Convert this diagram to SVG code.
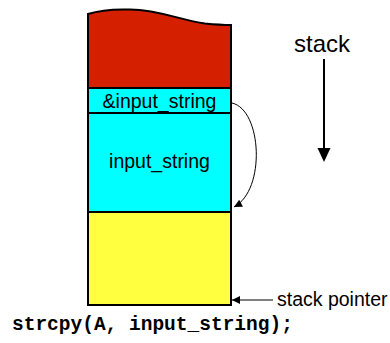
<svg xmlns="http://www.w3.org/2000/svg" width="390" height="343" viewBox="0 0 390 343">
<style>
.box{stroke:#000;stroke-width:2}
.lbl{font-family:"Liberation Sans",Arial,sans-serif;fill:#000}
.conn{fill:none;stroke:#000;stroke-width:1}
</style>
<defs>
<marker id="ah" viewBox="0 0 10 10" refX="10" refY="5" markerWidth="10" markerHeight="8" markerUnits="userSpaceOnUse" orient="auto"><path d="M0,0 L10,5 L0,10 z" fill="#000"/></marker>
</defs>
<rect width="390" height="343" fill="#fff"/>
<g id="heap">
<path class="box" d="M88,88 L88,14 C100,10 115,9 130,9.5 C160,10 180,20 205,23.5 C215,24.5 225,25 231,25 L231,88 Z" fill="#D42000"/>
</g>
<g id="addr">
<rect class="box" x="88" y="88" width="143" height="25" fill="#00FFFF"/>
<text class="lbl" x="159.5" y="108" font-size="19.5" text-anchor="middle">&amp;input_string</text>
</g>
<g id="buf">
<rect class="box" x="88" y="113" width="143" height="99" fill="#00FFFF"/>
<text class="lbl" x="159.5" y="168" font-size="19.5" text-anchor="middle">input_string</text>
</g>
<g id="free">
<rect class="box" x="88" y="212" width="143" height="93" fill="#FFFF40"/>
</g>
<g id="stacklabel">
<text class="lbl" x="322" y="52" font-size="24" text-anchor="middle">stack</text>
</g>
<g id="splabel">
<text class="lbl" x="277" y="306" font-size="19.5">stack pointer</text>
</g>
<g id="code">
<text x="12" y="330" font-family="'Liberation Mono','Courier New',monospace" font-weight="bold" font-size="19.5">strcpy(A, input_string);</text>
</g>
<g id="connectors">
<path class="conn" d="M232,103 C262,110 266,190 234,207" marker-end="url(#ah)"/>
<line x1="324" y1="59" x2="324" y2="150" stroke="#000" stroke-width="2"/>
<path d="M317.5,148 L330.5,148 L324,162 Z" fill="#000"/>
<line class="conn" x1="273" y1="300" x2="232" y2="300" marker-end="url(#ah)"/>
</g>
</svg>
